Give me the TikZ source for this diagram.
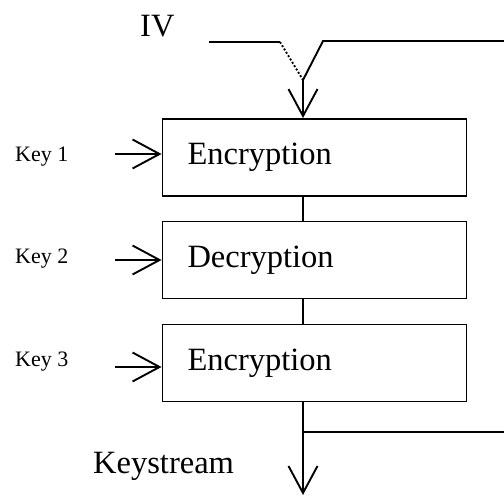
\documentclass[tikz,border=0pt]{standalone}
\usepackage{fontspec}
\setmainfont{Liberation Serif}
\usetikzlibrary{arrows.meta}
\tikzset{
  blk/.style={draw, line width=1.9bp, rectangle, minimum width=304bp, minimum height=77bp,
    text width=254bp, inner xsep=25bp, inner ysep=0pt, align=left,
    font=\fontsize{32.5bp}{39bp}\selectfont},
  big/.style={font=\fontsize{32.5bp}{39bp}\selectfont, inner sep=0pt},
  keylab/.style={font=\fontsize{22bp}{26bp}\selectfont, inner sep=0pt, anchor=base west},
  ln/.style={line width=1.9bp},
  arr/.style={ln, -{Straight Barb[length=27bp, width=29bp, line width=1.9bp]}},
}
\begin{document}
\begin{tikzpicture}[x=1bp, y=-1bp]
\useasboundingbox (0,0) rectangle (504,496);
% boxes
\node[blk] (e1) at (314.5,157.5) {Encryption};
\node[blk] (d2) at (314.5,260) {Decryption};
\node[blk] (e3) at (314.5,363) {Encryption};
% IV switch
\node[big, anchor=base west] (iv) at (140,37) {IV};
\coordinate (a1) at (209,42);
\coordinate (a2) at (280,42);
\coordinate (sw) at (303,80);
\coordinate (b1) at (323,41);
\coordinate (b2) at (504,41);
\draw[ln] (a1) -- (a2);
\draw[ln, dotted] (a2) -- (sw);
\draw[ln] (sw) -- (b1) -- (b2);
\draw[arr] (sw) -- (sw |- e1.north);
% box links
\draw[ln] (sw |- e1.south) -- (sw |- d2.north);
\draw[ln] (sw |- d2.south) -- (sw |- e3.north);
% keys
\node[keylab] (key1) at (15,162) {Key 1};
\node[keylab] (key2) at (15,263) {Key 2};
\node[keylab] (key3) at (15,366) {Key 3};
\coordinate (k1) at (115,154);
\coordinate (k2) at (115,260);
\coordinate (k3) at (115,367);
\draw[arr] (k1) -- (k1 -| e1.west);
\draw[arr] (k2) -- (k2 -| d2.west);
\draw[arr] (k3) -- (k3 -| e3.west);
% output
\coordinate (out) at (303,495);
\coordinate (br) at (303,432);
\coordinate (fb) at (504,432);
\draw[arr] (out |- e3.south) -- (out);
\draw[ln] (br) -- (fb);
\node[big, anchor=base west] (ks) at (93,473) {Keystream};
\end{tikzpicture}
\end{document}
